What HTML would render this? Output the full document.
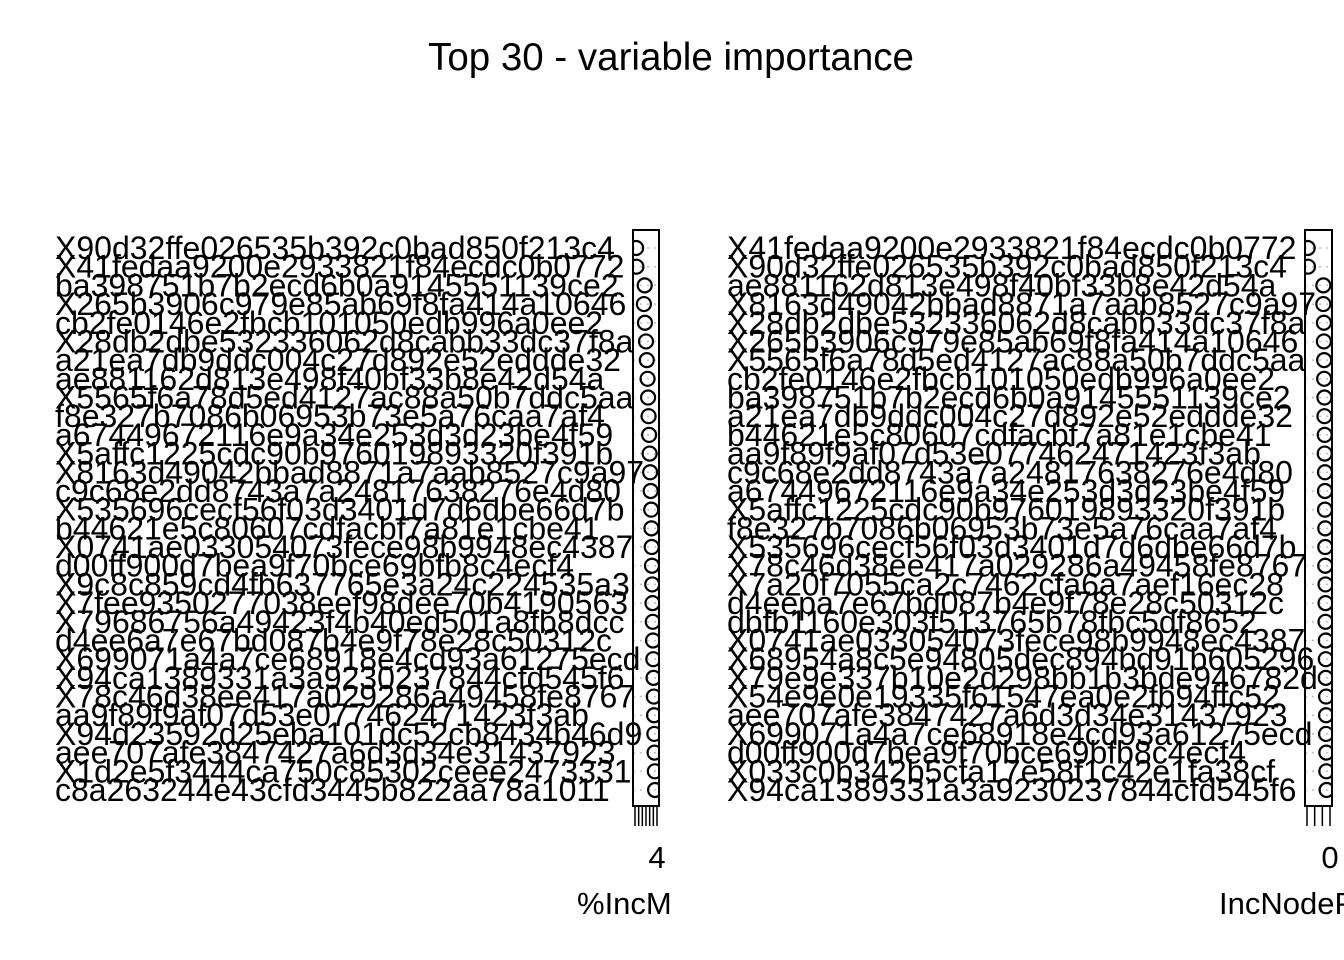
<!DOCTYPE html>
<html><head><meta charset="utf-8">
<style>body{margin:0;background:#fff}svg{display:block;font-family:"Liberation Sans",Arial,sans-serif}</style>
</head><body>
<svg id="chart" width="1344" height="960">
<rect width="1344" height="960" fill="#fff"/>
<text x="671" y="70" font-size="38.5" text-anchor="middle">Top 30 - variable importance</text>
<clipPath id="ltitleclip"><rect x="0" y="870" width="673" height="60"/></clipPath>
<g id="left"></g><g id="right"></g>
</svg>
<script>
const leftLabels=["X90d32ffe026535b392c0bad850f213c4","X41fedaa9200e2933821f84ecdc0b0772","ba398751b7b2ecd6b0a9145551139ce2","X265b3906c979e85ab69f8fa414a10646","cb2fe0146e2fbcb101050edb996a0ee2","X28db2dbe532336062d8cabb33dc37f8a","a21ea7db9ddc004c27d892e52eddde32","ae881162d813e498f40bf33b8e42d54a","X5565f6a78d5ed4127ac88a50b7ddc5aa","f8e327b7086b06953b73e5a76caa7af4","a67449672116e9a34e253d3d23be4f59","X5affc1225cdc90b976019893320f391b","X8163d49042bbad8871a7aab8527c9a97","c9c68e2dd8743a7a24817638276e4d80","X535696cecf56f03d3401d7d6dbe66d7b","b44621e5c80607cdfacbf7a81e1cbe41","X0741ae033054073fece98b9948ec4387","d00ff900d7bea9f70bce69bfb8c4ecf4","X9c8c859cd4fb637765e3a24c224535a3","X7fee9350277038eef98dee70b4190563","X79686756a49423f4b40ed501a8fb8dcc","d4ee6a7e67bd087b4e9f78e28c50312c","X699071a4a7ce68918e4cd93a61275ecd","X94ca1389331a3a9230237844cfd545f6","X78c46d38ee417a029286a49458fe8767","aa9f89f9af07d53e077462471423f3ab","X94d23592d25eba101dc52cb8434b46d9","aee707afe3847427a6d3d34e31437923","X1d2e5f3444ca750c85302ceee2473331","c8a263244e43cfd3445b822aa78a1011"];
const leftValues=[0.12,0.13,0.45,0.42,0.46,0.5,0.53,0.56,0.58,0.6,0.62,0.64,0.66,0.68,0.7,0.71,0.72,0.73,0.74,0.75,0.76,0.77,0.78,0.79,0.8,0.81,0.82,0.83,0.84,0.85];
const rightLabels=["X41fedaa9200e2933821f84ecdc0b0772","X90d32ffe026535b392c0bad850f213c4","ae881162d813e498f40bf33b8e42d54a","X8163d49042bbad8871a7aab8527c9a97","X28db2dbe532336062d8cabb33dc37f8a","X265b3906c979e85ab69f8fa414a10646","X5565f6a78d5ed4127ac88a50b7ddc5aa","cb2fe0146e2fbcb101050edb996a0ee2","ba398751b7b2ecd6b0a9145551139ce2","a21ea7db9ddc004c27d892e52eddde32","b44621e5c80607cdfacbf7a81e1cbe41","aa9f89f9af07d53e077462471423f3ab","c9c68e2dd8743a7a24817638276e4d80","a67449672116e9a34e253d3d23be4f59","X5affc1225cdc90b976019893320f391b","f8e327b7086b06953b73e5a76caa7af4","X535696cecf56f03d3401d7d6dbe66d7b","X78c46d38ee417a029286a49458fe8767","X7a20f7055ca2c7462cfa6a7aef16ec28","d4eepa7e67bd087b4e9f78e28c50312c","dbfb1160e303f513765b78fbc5df8652","X0741ae033054073fece98b9948ec4387","X68954a8c5e94805dec894bd91b605296","X79e9e337b10e2d298bb1b3bde946782d","X54e9e0e19335f61547ea0e2fb94ffc52","aee707afe3847427a6d3d34e31437923","X699071a4a7ce68918e4cd93a61275ecd","d00ff900d7bea9f70bce69bfb8c4ecf4","X033c0b342b5cfa17e58f1c42e1fa38cf","X94ca1389331a3a9230237844cfd545f6"];
const rightValues=[0.1,0.11,0.68,0.68,0.7,0.7,0.71,0.71,0.72,0.72,0.73,0.73,0.74,0.74,0.74,0.75,0.75,0.75,0.76,0.76,0.76,0.77,0.77,0.77,0.78,0.78,0.78,0.79,0.79,0.8];
const NS="http://www.w3.org/2000/svg";
function mk(p,t,a){const e=document.createElementNS(NS,t);for(const k in a)e.setAttribute(k,a[k]);p.appendChild(e);return e;}
function panel(gid,labels,values,labX,bx0,bx1,nTicks,tickLbl,axisTitle,titleX,titleClip){
 const g=document.getElementById(gid);
 const y=i=>248+i*(790-248)/29;
 const x=v=>bx0+v*(bx1-bx0);
 const cp=mk(g,'clipPath',{id:gid+'c'});mk(cp,'rect',{x:bx0,y:230,width:bx1-bx0,height:576});
 labels.forEach((l,i)=>{
  const d=mk(g,'line',{x1:bx0,x2:bx1,y1:y(i),y2:y(i),stroke:'#bebebe','stroke-dasharray':'2,5','stroke-width':1.5});
  
  
 });
 values.forEach((v,i)=>{
  const c=mk(g,'circle',{cx:x(v),cy:y(i),r:7,fill:'none',stroke:'#000','stroke-width':2.2,'clip-path':'url(#'+gid+'c)'});
  
  
 });
 const box=mk(g,'rect',{x:bx0,y:230,width:bx1-bx0,height:576,fill:'none',stroke:'#000','stroke-width':2});
 
 
 labels.forEach((l,i)=>{
  const t=mk(g,'text',{x:labX,y:y(i)+11,'font-size':32});t.textContent=l;
  
  
 });
 for(let k=0;k<nTicks;k++){
  const tx=bx0+2+k*(bx1-bx0-4)/(nTicks-1);
  const tk=mk(g,'line',{x1:tx,x2:tx,y1:806,y2:826,stroke:'#000','stroke-width':1.5});
  
  
 }
 const tl=mk(g,'text',{x:bx1-2,y:868,'font-size':31,'text-anchor':'middle'});tl.textContent=tickLbl;
 
 
 const at=mk(g,'text',{x:titleX,y:914,'font-size':31});at.textContent=axisTitle;
 if(titleClip)at.setAttribute('clip-path','url(#'+titleClip+')');
 
 
}
panel('left',leftLabels,leftValues,55,633,659,7,'4','%IncMSE',577,'ltitleclip');
panel('right',rightLabels,rightValues,727,1305,1332,4,'0','IncNodePurity',1219,null);
</script>
</body></html>
